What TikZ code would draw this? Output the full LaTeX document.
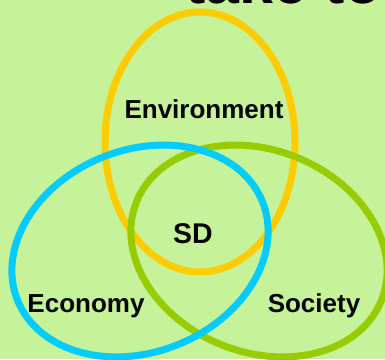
\documentclass[tikz,border=0pt]{standalone}
\usepackage{fontspec}
\setmainfont{Liberation Sans}
\definecolor{bggreen}{RGB}{198,242,154}
\definecolor{envyellow}{RGB}{255,204,0}
\definecolor{ecoblue}{RGB}{0,204,255}
\definecolor{socgreen}{RGB}{153,204,0}
\begin{document}
\begin{tikzpicture}[x=1pt,y=1pt,line width=7pt,every node/.style={font=\fontsize{26}{30}\selectfont\bfseries,inner sep=0pt}]
  \fill[bggreen] (0,0) rectangle (385,359);
  \clip (0,0) rectangle (385,359);
  \node (top) [anchor=base west,font=\fontsize{61}{70}\selectfont\bfseries] at (182,355.5) {take to};
  \draw[envyellow] (200,217) ellipse (95 and 130);
  \draw[socgreen,rotate around={-22:(259,108)}] (259,108) ellipse (132 and 101);
  \draw[ecoblue,rotate around={22:(140,108)}] (140,108) ellipse (132 and 101);
  \node (env) [anchor=base] at (204,240) {Environment};
  \node (sd) [anchor=base,font=\fontsize{28.5}{32}\selectfont\bfseries] at (193,116) {SD};
  \node (eco) [anchor=base] at (86,47) {Economy};
  \node (soc) [anchor=base] at (314,47) {Society};
\end{tikzpicture}
\end{document}
